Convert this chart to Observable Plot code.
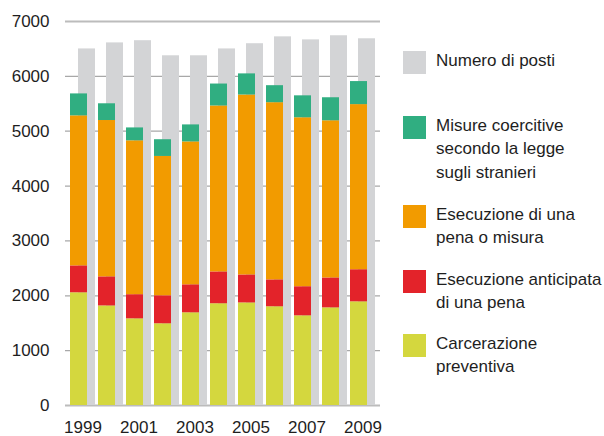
<!DOCTYPE html>
<html><head><meta charset="utf-8">
<script src="https://cdn.jsdelivr.net/npm/d3@7"></script>
<script src="https://cdn.jsdelivr.net/npm/@observablehq/plot@0.6"></script>
<style>
body{margin:0;background:#fff;}
#wrap{position:relative;width:604px;height:436px;font-family:"Liberation Sans",Arial,sans-serif;}
#wrap svg{position:absolute;left:0;top:0;}
.leg{position:absolute;left:403px;width:200px;}
.sw{position:absolute;left:0;top:0;width:23px;height:23px;}
.lt{position:absolute;left:33px;top:-2.5px;font-size:17px;line-height:23.5px;color:#1e1e1e;white-space:pre;}
</style></head><body><div id="wrap"></div>
<script>
const years = ["1999","2000","2001","2002","2003","2004","2005","2006","2007","2008","2009"];
const xTickLabels = ["1999","2001","2003","2005","2007","2009"];
const yTicks = [0,1000,2000,3000,4000,5000,6000,7000];
const posti = [6500,6610,6650,6375,6375,6500,6595,6720,6665,6740,6685];
const carcerazione = [2055,1815,1580,1490,1690,1855,1870,1800,1635,1780,1890];
const anticipata = [490,530,440,510,510,580,510,490,530,545,585];
const esecuzione = [2735,2850,2805,2540,2605,3025,3280,3230,3080,2865,3010];
const misure = [400,305,235,305,310,400,385,310,400,420,420];
const seriesNames = ["Carcerazione preventiva","Esecuzione anticipata di una pena","Esecuzione di una pena o misura","Misure coercitive secondo la legge sugli stranieri"];
const seriesColors = ["#d4d73e","#e3232a","#f29b00","#30ae81"];
const postiName = "Numero di posti";
const postiColor = "#d3d4d6";
const legendLabels = ["Numero di posti","Misure coercitive\nsecondo la legge\nsugli stranieri","Esecuzione di una\npena o misura","Esecuzione anticipata\ndi una pena","Carcerazione\npreventiva"];
const legendColors = [postiColor,"#30ae81","#f29b00","#e3232a","#d4d73e"];
const legendTops = [48.5,113.5,202.5,267.5,331.5];

const seriesValues = [carcerazione, anticipata, esecuzione, misure];
const stacked = [];
years.forEach((y,i)=>{
  seriesValues.forEach((arr,s)=>stacked.push({year:y, series:seriesNames[s], value:arr[i]}));
});
const postiData = years.map((y,i)=>({year:y, value:posti[i]}));

const chart = Plot.plot({
  width:604, height:436,
  marginLeft:65, marginRight:224, marginTop:21, marginBottom:31,
  style:{fontFamily:'"Liberation Sans",Arial,sans-serif', fontSize:"17px", color:"#1e1e1e", background:"transparent"},
  x:{domain:years, paddingInner:0.092, paddingOuter:0.035, label:null},
  y:{domain:[0,7000], label:null},
  color:{domain:seriesNames, range:seriesColors},
  marks:[
    Plot.ruleY(yTicks.filter(t=>t>0 && t<7000), {stroke:"#a8a8a8", strokeWidth:1.3}),
    Plot.ruleY([0,7000], {stroke:"#bcbcbc", strokeWidth:2}),
    Plot.barY(postiData, {x:"year", y:"value", fill:postiColor, insetLeft:8}),
    Plot.barY(stacked, {x:"year", y:"value", fill:"series", insetRight:8}),
    Plot.axisY({ticks:yTicks, tickFormat:d=>String(d), tickSize:0, tickPadding:16, label:null, fontSize:17}),
    Plot.axisX({ticks:xTickLabels, tickSize:0, tickPadding:15, label:null, fontSize:17})
  ]
});
const wrap = document.getElementById("wrap");
wrap.appendChild(chart);
legendLabels.forEach((lab,i)=>{
  const d = document.createElement("div");
  d.className="leg"; d.style.top = (legendTops[i]+2.5)+"px";
  const sw = document.createElement("div"); sw.className="sw"; sw.style.background=legendColors[i];
  const t = document.createElement("div"); t.className="lt"; t.textContent = lab;
  d.appendChild(sw); d.appendChild(t); wrap.appendChild(d);
});
</script></body></html>
